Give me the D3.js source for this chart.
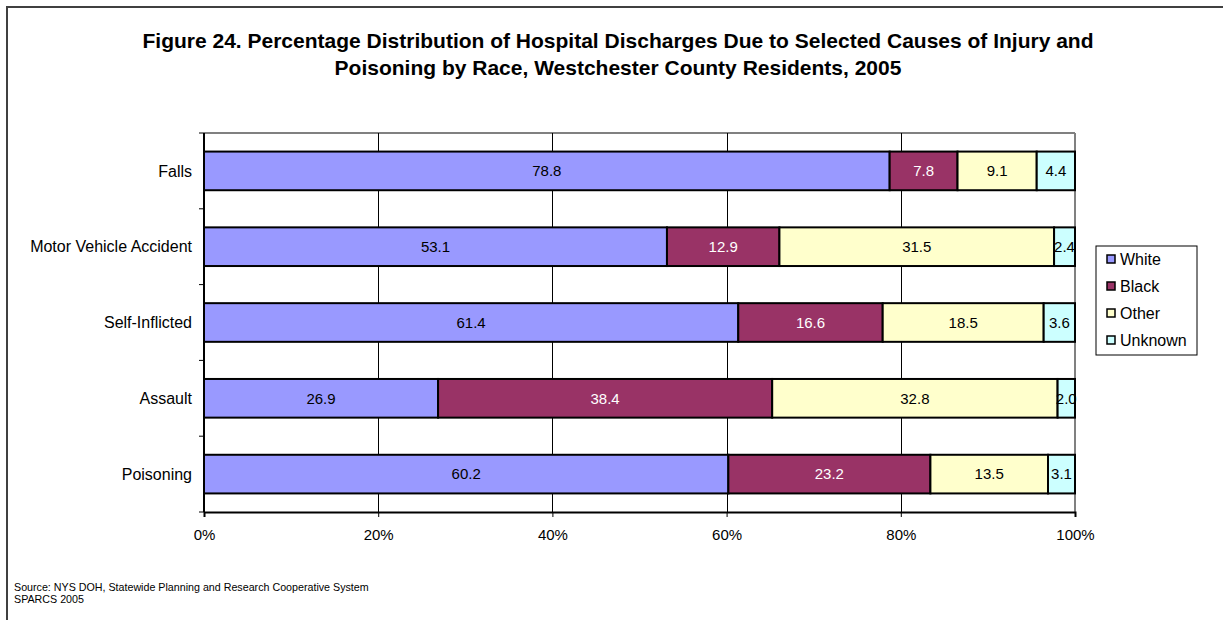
<!DOCTYPE html>
<html>
<head>
<meta charset="utf-8">
<script src="https://cdn.jsdelivr.net/npm/d3@7"></script>
<style>
  body { margin: 0; background: #fff; }
  text { font-family: Arial, "Liberation Sans", sans-serif; }
</style>
</head>
<body>
<div id="chart"></div>
<script>
var categories = ["Falls", "Motor Vehicle Accident", "Self-Inflicted", "Assault", "Poisoning"];
var seriesNames = ["White", "Black", "Other", "Unknown"];
var white   = [78.8, 53.1, 61.4, 26.9, 60.2];
var black   = [7.8, 12.9, 16.6, 38.4, 23.2];
var other   = [9.1, 31.5, 18.5, 32.8, 13.5];
var unknown = [4.4, 2.4, 3.6, 2.0, 3.1];
var tickValues = [0, 0.2, 0.4, 0.6, 0.8, 1];

var colors = ["#9999FF", "#993366", "#FFFFCC", "#CCFFFF"];
var labelColors = ["#000", "#fff", "#000", "#000"];

var rows = categories.map(function (c, i) {
    return { cat: c, White: white[i], Black: black[i], Other: other[i], Unknown: unknown[i] };
});

var width = 1223, height = 620;
var plotLeft = 204, plotRight = 1075, plotTop = 133, plotBottom = 512;

var svg = d3.select("#chart").append("svg")
    .attr("width", width)
    .attr("height", height);

// outer chart border (runs off the right and bottom edges)
svg.append("rect")
    .attr("x", 7).attr("y", 7)
    .attr("width", 1240).attr("height", 640)
    .attr("fill", "#fff")
    .attr("stroke", "#404040")
    .attr("stroke-width", 2);

// title
var title = svg.append("text")
    .attr("text-anchor", "middle")
    .style("font-size", "21px")
    .style("font-weight", "bold");
title.append("tspan").attr("x", 618).attr("y", 48)
    .text("Figure 24. Percentage Distribution of Hospital Discharges Due to Selected Causes of Injury and");
title.append("tspan").attr("x", 618).attr("y", 75)
    .text("Poisoning by Race, Westchester County Residents, 2005");

var x = d3.scaleLinear().domain([0, 1]).range([plotLeft, plotRight]);
var y = d3.scaleBand().domain(categories).range([plotTop, plotBottom])
    .paddingInner(0.49).paddingOuter(0.245);

// plot area border (gray top/right)
svg.append("line").attr("x1", plotLeft).attr("x2", plotRight).attr("y1", plotTop).attr("y2", plotTop)
    .attr("stroke", "#808080").attr("stroke-width", 2);
svg.append("line").attr("x1", plotRight).attr("x2", plotRight).attr("y1", plotTop).attr("y2", plotBottom)
    .attr("stroke", "#808080").attr("stroke-width", 2);

// vertical gridlines
svg.append("g").selectAll("line")
    .data(tickValues.slice(1, -1))
    .enter().append("line")
    .attr("x1", function (d) { return Math.round(x(d)) + 0.5; })
    .attr("x2", function (d) { return Math.round(x(d)) + 0.5; })
    .attr("y1", plotTop).attr("y2", plotBottom)
    .attr("stroke", "#000").attr("stroke-width", 1);

// stacked bars
var stack = d3.stack().keys(seriesNames).offset(d3.stackOffsetExpand);
var layers = stack(rows);

var layer = svg.append("g").selectAll("g")
    .data(layers)
    .enter().append("g");

function segs(d) {
    return d.map(function (p) { return { p: p, key: d.key, idx: d.index }; });
}

layer.selectAll("rect")
    .data(segs)
    .enter().append("rect")
    .attr("x", function (d) { return x(d.p[0]); })
    .attr("y", function (d) { return y(d.p.data.cat); })
    .attr("width", function (d) { return x(d.p[1]) - x(d.p[0]); })
    .attr("height", y.bandwidth())
    .attr("fill", function (d) { return colors[d.idx]; })
    .attr("stroke", "#000")
    .attr("stroke-width", 2);

layer.selectAll("text")
    .data(segs)
    .enter().append("text")
    .attr("x", function (d) { return (x(d.p[0]) + x(d.p[1])) / 2; })
    .attr("y", function (d) { return y(d.p.data.cat) + y.bandwidth() / 2; })
    .attr("dy", "0.35em")
    .attr("text-anchor", "middle")
    .style("font-size", "15px")
    .attr("fill", function (d) { return labelColors[d.idx]; })
    .text(function (d) { return d.p.data[d.key].toFixed(1); });

// left axis with ticks between categories
var yAxis = svg.append("g");
yAxis.append("line").attr("x1", plotLeft).attr("x2", plotLeft).attr("y1", plotTop).attr("y2", plotBottom)
    .attr("stroke", "#000").attr("stroke-width", 2);
var step = y.step();
yAxis.selectAll("line.tick")
    .data(d3.range(categories.length + 1))
    .enter().append("line")
    .attr("class", "tick")
    .attr("x1", plotLeft - 5).attr("x2", plotLeft)
    .attr("y1", function (i) { return plotTop + i * step; })
    .attr("y2", function (i) { return plotTop + i * step; })
    .attr("stroke", "#000").attr("stroke-width", 1);
yAxis.selectAll("text")
    .data(categories)
    .enter().append("text")
    .attr("x", 192)
    .attr("y", function (d) { return y(d) + y.bandwidth() / 2; })
    .attr("dy", "0.35em")
    .attr("text-anchor", "end")
    .style("font-size", "16px")
    .text(function (d) { return d; });

// bottom axis
var xAxis = svg.append("g")
    .attr("transform", "translate(0," + plotBottom + ")")
    .call(d3.axisBottom(x).tickValues(tickValues).tickFormat(d3.format(".0%")).tickSize(5).tickPadding(12));
xAxis.select(".domain").attr("stroke", "#000").attr("stroke-width", 2);
xAxis.selectAll(".tick line").attr("stroke", "#000");
xAxis.selectAll(".tick text")
    .style("font-size", "15px")
    .style("font-family", "Arial, 'Liberation Sans', sans-serif")
    .attr("fill", "#000");

// legend
var legend = svg.append("g").attr("transform", "translate(1096,246)");
legend.append("rect")
    .attr("width", 101).attr("height", 109)
    .attr("fill", "#fff").attr("stroke", "#000").attr("stroke-width", 1);
var item = legend.selectAll("g.item")
    .data(seriesNames)
    .enter().append("g")
    .attr("class", "item")
    .attr("transform", function (d, i) { return "translate(11," + (13 + i * 27) + ")"; });
item.append("rect")
    .attr("x", 0).attr("y", -4)
    .attr("width", 8).attr("height", 8)
    .attr("fill", function (d, i) { return colors[i]; })
    .attr("stroke", "#000").attr("stroke-width", 1.5);
item.append("text")
    .attr("x", 13).attr("dy", "0.35em")
    .style("font-size", "16px")
    .text(function (d) { return d; });

// source note
svg.append("text").attr("x", 14).attr("y", 591).style("font-size", "10.7px")
    .text("Source: NYS DOH, Statewide Planning and Research Cooperative System");
svg.append("text").attr("x", 14).attr("y", 603).style("font-size", "10.7px")
    .text("SPARCS 2005");
</script>
</body>
</html>
